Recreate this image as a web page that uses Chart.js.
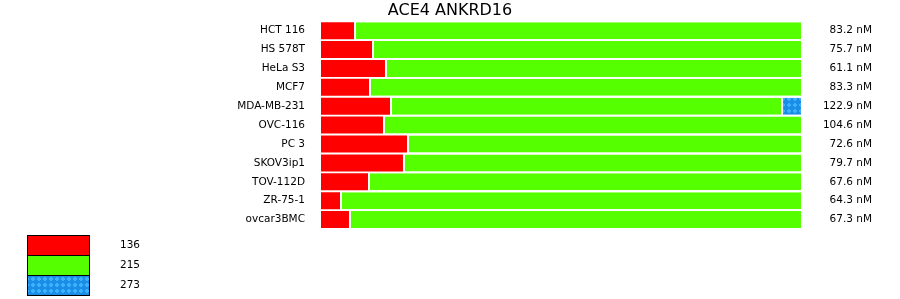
<!DOCTYPE html>
<html>
<head>
<meta charset="utf-8">
<script src="https://cdn.jsdelivr.net/npm/chart.js@4.4.1/dist/chart.umd.min.js"></script>
<style>
  html, body { margin: 0; padding: 0; background: #fff; }
  canvas { display: block; }
</style>
</head>
<body>
<canvas id="chart" width="900" height="299"></canvas>
<script>
// --- DATA ---
const cellLines = [
  'HCT 116', 'HS 578T', 'HeLa S3', 'MCF7', 'MDA-MB-231', 'OVC-116',
  'PC 3', 'SKOV3ip1', 'TOV-112D', 'ZR-75-1', 'ovcar3BMC'
];

// share of each bar (percent of row)
const s136 = [6.88, 10.63, 13.33, 10.00, 14.38, 12.92, 17.92, 17.08, 9.79, 3.96, 5.83];
const s215 = [93.12, 89.37, 86.67, 90.00, 81.46, 87.08, 82.08, 82.92, 90.21, 96.04, 94.17];
const s273 = [0, 0, 0, 0, 4.16, 0, 0, 0, 0, 0, 0];

const concLabels = [
  '83.2 nM', '75.7 nM', '61.1 nM', '83.3 nM', '122.9 nM', '104.6 nM',
  '72.6 nM', '79.7 nM', '67.6 nM', '64.3 nM', '67.3 nM'
];

const seriesNames = ['136', '215', '273'];
const chartTitle = 'ACE4 ANKRD16';

// --- STYLE ---
const FONT = '"DejaVu Sans", Verdana, sans-serif';

function dotPattern() {
  const c = document.createElement('canvas');
  c.width = 6; c.height = 6;
  const g = c.getContext('2d');
  g.fillStyle = '#1a8ee6';
  g.fillRect(0, 0, 6, 6);
  g.fillStyle = '#3cb2ff';
  g.fillRect(2, 1, 2, 4);
  g.fillRect(1, 2, 4, 2);
  return g.createPattern(c, 'repeat');
}
const blueFill = dotPattern();

const gapBorder = { top: 0, right: 0, bottom: 0, left: 2 };

// concentration labels on the right and the box legend underneath
const sidePlugin = {
  id: 'side',
  afterDraw(chart) {
    const { ctx, chartArea, scales: { y } } = chart;
    ctx.save();
    ctx.font = '10.5px ' + FONT;
    ctx.fillStyle = '#000';
    ctx.textBaseline = 'middle';
    ctx.textAlign = 'right';
    concLabels.forEach((t, i) => {
      ctx.fillText(t, chartArea.right + 71, y.getPixelForTick(i));
    });

    chart.data.datasets.forEach((ds, i) => {
      const bx = 27, by = 235 + i * 20;
      ctx.fillStyle = ds.backgroundColor;
      ctx.fillRect(bx, by, 62, 20);
      ctx.strokeStyle = '#000';
      ctx.lineWidth = 1;
      ctx.strokeRect(bx + 0.5, by + 0.5, 62, 20);
      ctx.fillStyle = '#000';
      ctx.textAlign = 'left';
      ctx.fillText(ds.label, 120, by + 10.5);
    });
    ctx.restore();
  }
};

// --- CHART ---
const ctx = document.getElementById('chart').getContext('2d');

new Chart(ctx, {
  type: 'bar',
  data: {
    labels: cellLines,
    datasets: [
      {
        label: seriesNames[0], data: s136,
        backgroundColor: '#ff0000', borderWidth: 0,
      },
      {
        label: seriesNames[1], data: s215,
        backgroundColor: '#55ff00', borderColor: '#fff',
        borderWidth: gapBorder, borderSkipped: false,
      },
      {
        label: seriesNames[2], data: s273,
        backgroundColor: blueFill, borderColor: '#fff',
        borderWidth: gapBorder, borderSkipped: false,
      }
    ]
  },
  options: {
    indexAxis: 'y',
    responsive: false,
    animation: false,
    layout: { padding: { left: 0, right: 0, top: 0, bottom: 70 } },
    datasets: { bar: { barPercentage: 0.9, categoryPercentage: 1 } },
    plugins: {
      legend: { display: false },
      tooltip: { enabled: false },
      title: {
        display: true,
        text: chartTitle,
        color: '#000',
        font: { family: FONT, size: 16, weight: 'normal' },
        padding: { top: 1, bottom: 1 }
      }
    },
    scales: {
      x: { stacked: true, min: 0, max: 100, display: false },
      y: {
        stacked: true,
        grid: { display: false, drawTicks: false },
        border: { display: false },
        ticks: { color: '#000', padding: 16, font: { family: FONT, size: 10.5 } },
        afterFit: s => { s.width = 321; s.paddingTop = 0; s.paddingBottom = 0; }
      },
      // empty right-hand axis that only reserves room for the nM labels
      side: {
        type: 'category',
        axis: 'y',
        position: 'right',
        grid: { display: false, drawTicks: false },
        border: { display: false },
        ticks: { display: false },
        afterFit: s => { s.width = 99; s.paddingTop = 0; s.paddingBottom = 0; }
      }
    }
  },
  plugins: [sidePlugin]
});
</script>
</body>
</html>
